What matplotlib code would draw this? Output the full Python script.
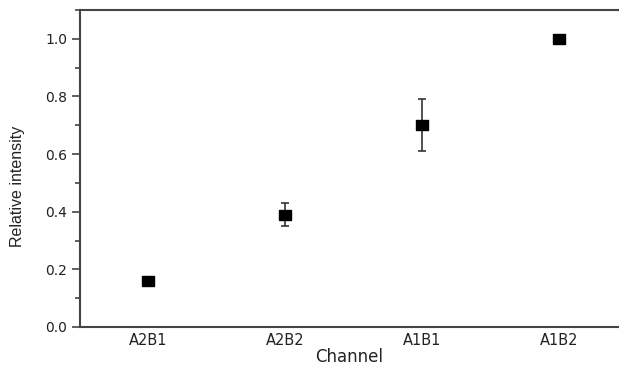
import numpy as np
import matplotlib
matplotlib.use('Agg')
import matplotlib.pyplot as plt
from matplotlib.ticker import MultipleLocator, FormatStrFormatter

plt.rcParams.update({
    'font.family': ['DejaVu Sans'],
    'font.size': 10,
})

channels = ['A2B1', 'A2B2', 'A1B1', 'A1B2']
intensity = [0.16, 0.39, 0.70, 1.00]
errors = [0.0, 0.04, 0.09, 0.0]

fig = plt.figure(figsize=(6.19, 3.66), dpi=100)
ax = fig.add_axes([80 / 619, 39 / 366, 1 - 80 / 619, 317 / 366])

x = np.arange(len(channels))
rect = [(-1.3, -1), (1.3, -1), (1.3, 1), (-1.3, 1), (-1.3, -1)]
ax.errorbar(x, intensity, yerr=errors, fmt='none', ecolor='#333333',
            elinewidth=1.2, capsize=3, capthick=1.2)
ax.plot(x, intensity, linestyle='none', marker=rect, markersize=8.5,
        color='black')

ax.set_xlim(-0.5, 3.44)
ax.set_ylim(0, 1.1)
ax.set_xticks(x)
ax.set_xticklabels(channels)
ax.yaxis.set_major_locator(MultipleLocator(0.2))
ax.yaxis.set_minor_locator(MultipleLocator(0.1))
ax.yaxis.set_major_formatter(FormatStrFormatter('%.1f'))

for side in ['left', 'bottom', 'top']:
    ax.spines[side].set_color('#444444')
    ax.spines[side].set_linewidth(1.5)
ax.spines['right'].set_visible(False)

ax.tick_params(axis='x', length=0, pad=4, labelcolor='#222222', labelsize=10.5)
ax.tick_params(axis='y', which='major', length=6, width=1.2, color='#444444',
               labelcolor='#222222', labelsize=10, pad=3)
ax.tick_params(axis='y', which='minor', length=3.5, width=1.2, color='#444444')

ax.set_xlabel('Channel', fontsize=12, color='#222222', va='baseline')
ax.xaxis.set_label_coords(0.5, -35 / 317)
ax.set_ylabel('Relative intensity', color='#222222',
              family=['Liberation Sans'], fontsize=11.5)
ax.yaxis.set_label_coords(-55 / 539, 0.445)

fig.savefig('out.png', dpi=100)
